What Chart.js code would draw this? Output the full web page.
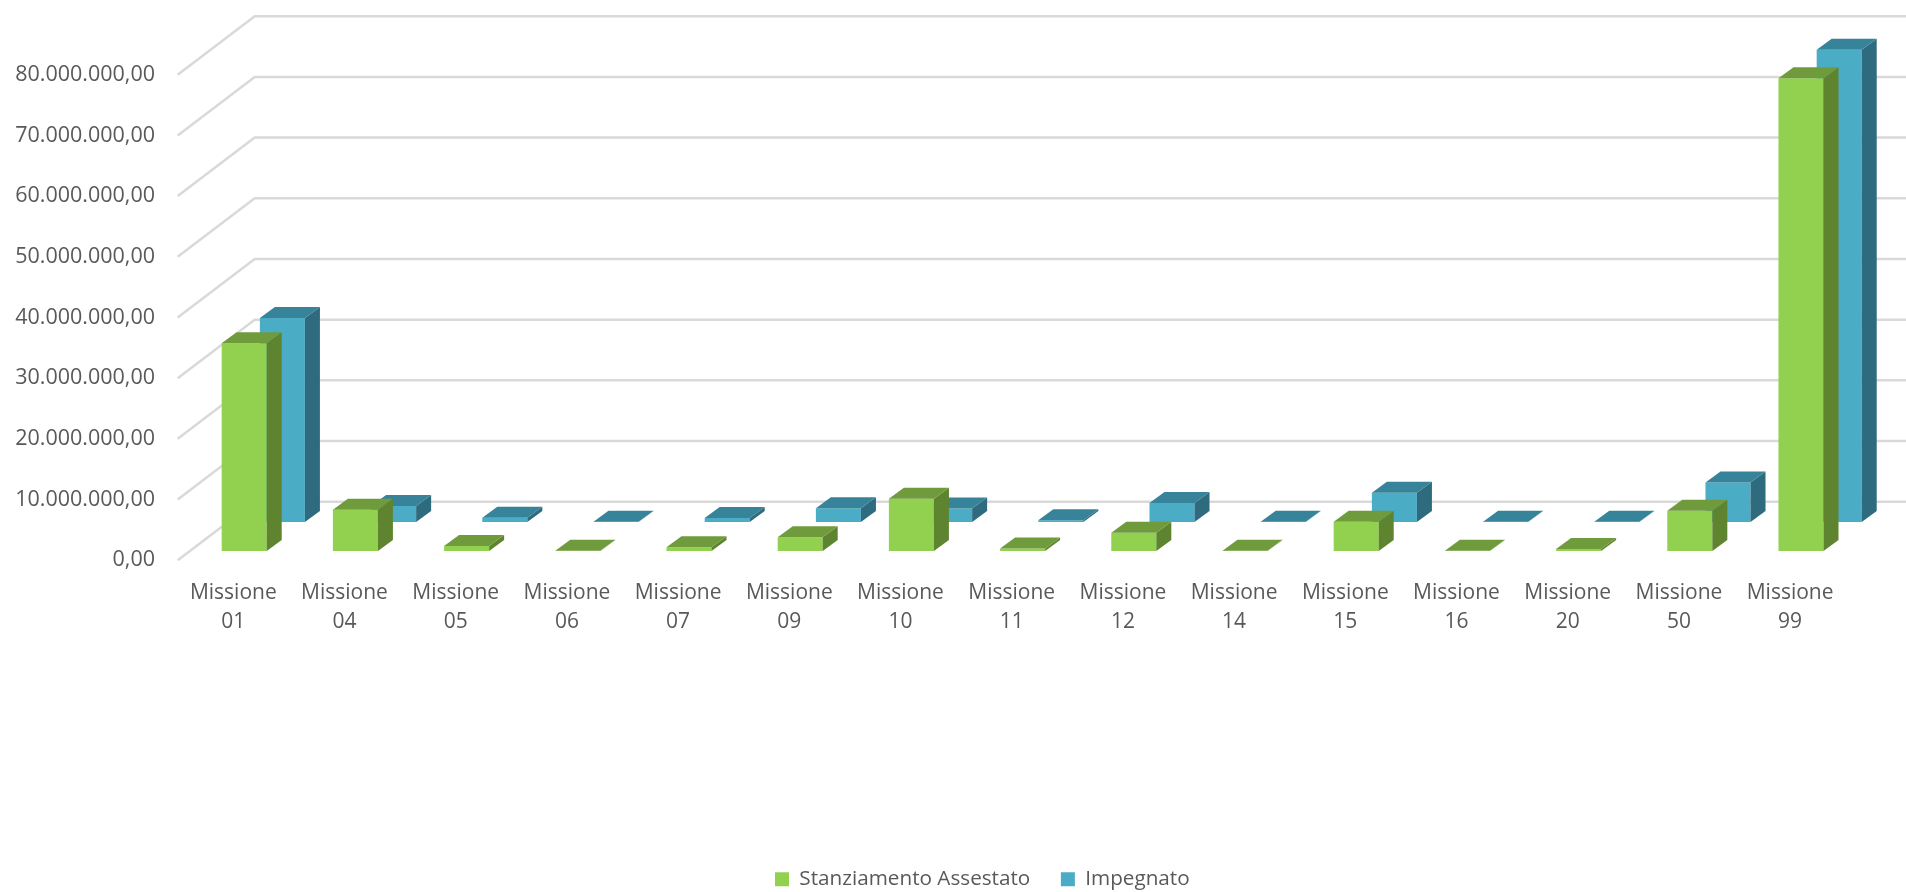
<!DOCTYPE html>
<html lang="it">
<head>
    <meta charset="UTF-8">
    <title>Stanziamento Assestato e Impegnato per Missione</title>
    <script src="https://cdn.jsdelivr.net/npm/chart.js"></script>
    <style>
        html, body { margin: 0; padding: 0; background: #ffffff; }
        #wrap { position: relative; width: 1906px; height: 892px; overflow: hidden; }
    </style>
</head>
<body>
    <div id="wrap"><canvas id="missioniChart" width="1906" height="892"></canvas></div>

    <script>
        const categories = [
            ['Missione', '01'], ['Missione', '04'], ['Missione', '05'], ['Missione', '06'], ['Missione', '07'],
            ['Missione', '09'], ['Missione', '10'], ['Missione', '11'], ['Missione', '12'], ['Missione', '14'],
            ['Missione', '15'], ['Missione', '16'], ['Missione', '20'], ['Missione', '50'], ['Missione', '99']
        ];
        const stanziamento = [34200000, 6800000, 800000, 30000, 600000, 2260000, 8600000, 400000, 3000000, 30000, 4800000, 30000, 300000, 6600000, 77900000];
        const impegnato = [33600000, 2600000, 700000, 30000, 650000, 2250000, 2200000, 280000, 3100000, 30000, 4800000, 30000, 30000, 6500000, 77800000];

        // Prospettiva finta: il piano di fondo e' spostato di (77, -58.5) rispetto al fronte
        const PLANE_DX = 77;
        const PLANE_DY = 58.5;
        const BAR_DX = 15;
        const BAR_DY = 11;
        const seriesShift = [{ x: 10.9, y: 9.3 }, { x: 49.1, y: 38.3 }];
        const faceColors = [
            { top: '#6f9b3c', side: '#5e8430' },
            { top: '#37839a', side: '#2f6b7e' }
        ];

        const depthGrid = {
            id: 'depthGrid',
            beforeDatasetsDraw(chart) {
                const ctx = chart.ctx;
                const scale = chart.scales.y;
                ctx.save();
                ctx.strokeStyle = '#d9d9d9';
                ctx.lineWidth = 2.5;
                scale.ticks.forEach(t => {
                    const y = scale.getPixelForValue(t.value);
                    ctx.beginPath();
                    ctx.moveTo(scale.right, y);
                    ctx.lineTo(chart.chartArea.left + PLANE_DX, y - PLANE_DY);
                    ctx.lineTo(chart.width, y - PLANE_DY);
                    ctx.stroke();
                });
                ctx.restore();
            }
        };

        const bars3d = {
            id: 'bars3d',
            beforeDatasetDraw(chart, args) {
                const s = seriesShift[args.index];
                chart.ctx.save();
                chart.ctx.translate(s.x, -s.y);
            },
            afterDatasetDraw(chart, args) {
                const ctx = chart.ctx;
                const colors = faceColors[args.index];
                args.meta.data.forEach(bar => {
                    const p = bar.getProps(['x', 'y', 'base', 'width'], true);
                    const l = p.x - p.width / 2;
                    const r = p.x + p.width / 2;
                    ctx.fillStyle = colors.side;
                    ctx.beginPath();
                    ctx.moveTo(r, p.y);
                    ctx.lineTo(r + BAR_DX, p.y - BAR_DY);
                    ctx.lineTo(r + BAR_DX, p.base - BAR_DY);
                    ctx.lineTo(r, p.base);
                    ctx.closePath();
                    ctx.fill();
                    ctx.fillStyle = colors.top;
                    ctx.beginPath();
                    ctx.moveTo(l, p.y);
                    ctx.lineTo(l + BAR_DX, p.y - BAR_DY);
                    ctx.lineTo(r + BAR_DX, p.y - BAR_DY);
                    ctx.lineTo(r, p.y);
                    ctx.closePath();
                    ctx.fill();
                });
                ctx.restore();
            }
        };

        // la legenda nell'originale non e' centrata sul grafico
        const legendShift = {
            id: 'legendShift',
            afterLayout(chart) {
                const lg = chart.legend;
                lg.left += 59.5;
                lg.right += 59.5;
                lg.top += 7.5;
                lg.bottom += 7.5;
            }
        };

        const fontFamily = '"Open Sans", sans-serif';

        new Chart(document.getElementById('missioniChart'), {
            type: 'bar',
            data: {
                labels: categories,
                datasets: [
                    { label: 'Stanziamento Assestato', data: stanziamento, backgroundColor: '#92d050', clip: false },
                    { label: 'Impegnato', data: impegnato, backgroundColor: '#4bacc6', clip: false }
                ]
            },
            options: {
                responsive: false,
                animation: false,
                devicePixelRatio: 1,
                layout: { padding: { top: 74.7, right: 60.3, left: 0, bottom: 0 } },
                datasets: { bar: { grouped: false, categoryPercentage: 1, barPercentage: 0.405 } },
                scales: {
                    x: {
                        grid: { display: false },
                        border: { display: false },
                        afterFit(scale) { scale.height = 270.5; },
                        ticks: {
                            color: '#595959',
                            padding: 10,
                            maxRotation: 0,
                            autoSkip: false,
                            font: { family: fontFamily, size: 21, lineHeight: 1.38 }
                        }
                    },
                    y: {
                        min: 0,
                        max: 80000000,
                        grid: { display: false },
                        border: { display: false },
                        afterFit(scale) { scale.width = 177.7; },
                        ticks: {
                            stepSize: 10000000,
                            color: '#595959',
                            padding: 14.7,
                            font: { family: fontFamily, size: 21.5 },
                            callback: v => v.toLocaleString('it-IT', { minimumFractionDigits: 2, maximumFractionDigits: 2 })
                        }
                    }
                },
                plugins: {
                    tooltip: { enabled: false },
                    legend: {
                        position: 'bottom',
                        labels: {
                            color: '#595959',
                            boxWidth: 14,
                            boxHeight: 14,
                            padding: 30.6,
                            font: { family: fontFamily, size: 20.7 }
                        }
                    }
                }
            },
            plugins: [depthGrid, bars3d, legendShift]
        });
    </script>
</body>
</html>
